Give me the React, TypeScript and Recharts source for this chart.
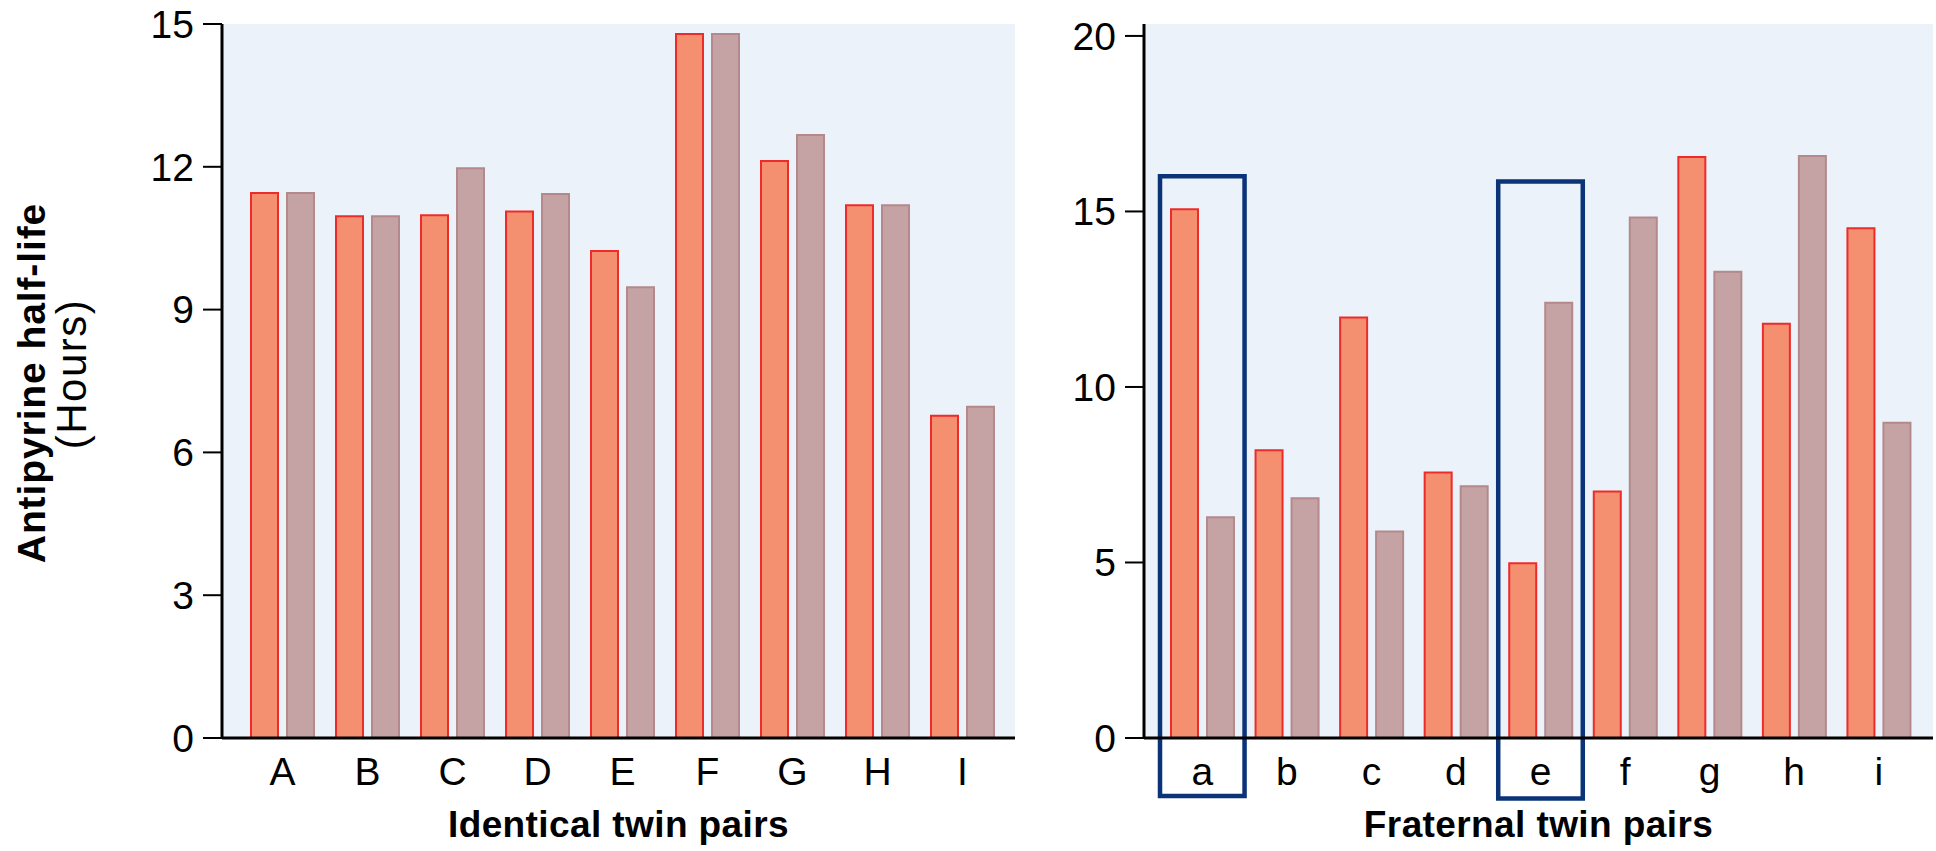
import React from 'react';
import { BarChart, Bar, XAxis, YAxis, CartesianGrid, ReferenceArea } from 'recharts';

const identicalPairs = ['A', 'B', 'C', 'D', 'E', 'F', 'G', 'H', 'I'];
const identicalTwin1 = [11.45, 10.96, 10.98, 11.06, 10.23, 14.79, 12.12, 11.19, 6.77];
const identicalTwin2 = [11.45, 10.96, 11.97, 11.43, 9.47, 14.79, 12.67, 11.19, 6.96];
const identicalTicks = [0, 3, 6, 9, 12, 15];

const fraternalPairs = ['a', 'b', 'c', 'd', 'e', 'f', 'g', 'h', 'i'];
const fraternalTwin1 = [15.06, 8.2, 11.98, 7.56, 4.98, 7.02, 16.55, 11.8, 14.52];
const fraternalTwin2 = [6.29, 6.83, 5.88, 7.17, 12.4, 14.83, 13.28, 16.58, 8.98];
const fraternalTicks = [0, 5, 10, 15, 20];

const highlightedPairs = ['a', 'e'];
const highlightTop = [16.0, 15.85];
const highlightBottom = [-1.65, -1.72];

const FONT = '"Liberation Sans", Arial, Helvetica, sans-serif';
const BG = '#EBF2FA';
const ORANGE = '#F4906F';
const ORANGE_STROKE = '#EE2B2B';
const GRAY = '#C5A3A4';
const GRAY_STROKE = '#B3898B';
const NAVY = '#0A3378';

const identicalData = identicalPairs.map((p, i) => ({ pair: p, twin1: identicalTwin1[i], twin2: identicalTwin2[i] }));
const fraternalData = fraternalPairs.map((p, i) => ({ pair: p, twin1: fraternalTwin1[i], twin2: fraternalTwin2[i] }));

const tickStyle = { fill: '#000', fontSize: 39, fontFamily: FONT };
const axisLineStyle = { stroke: '#000', strokeWidth: 3 };
const tickLineStyle = { stroke: '#000', strokeWidth: 2 };

const YLabel = (props: any) => {
  const vb = props.viewBox || { x: 0, y: 24, width: 222, height: 714 };
  const cy = vb.y + vb.height / 2;
  const x1 = vb.x + 45;
  const x2 = vb.x + 86;
  return (
    <g>
      <text
        x={x1}
        y={cy + 2}
        transform={`rotate(-90, ${x1}, ${cy + 2})`}
        textAnchor="middle"
        fontFamily={FONT}
        fontWeight="bold"
        fontSize={39}
        letterSpacing={0.9}
        fill="#000"
      >
        Antipyrine half-life
      </text>
      <text
        x={x2}
        y={cy - 7}
        transform={`rotate(-90, ${x2}, ${cy - 7})`}
        textAnchor="middle"
        fontFamily={FONT}
        fontSize={42}
        letterSpacing={1.5}
        fill="#000"
      >
        (Hours)
      </text>
    </g>
  );
};

export default function App() {
  return (
    <div style={{ position: 'absolute', left: 0, top: 0, width: 1936, height: 851, background: '#fff' }}>
      <div style={{ position: 'absolute', left: 0, top: 0 }}>
        <BarChart
          width={1030}
          height={851}
          data={identicalData}
          margin={{ top: 24, right: 15, bottom: 0, left: 0 }}
          barGap={9}
          barSize={27}
        >
          <CartesianGrid fill={BG} horizontal={false} vertical={false} stroke="none" />
          <XAxis
            dataKey="pair"
            height={113}
            padding={{ left: 18, right: 10 }}
            tickLine={false}
            tickSize={0}
            tickMargin={19}
            axisLine={axisLineStyle}
            tick={tickStyle}
            interval={0}
            label={{
              value: 'Identical twin pairs',
              position: 'insideBottom',
              offset: 14,
              style: { fontFamily: FONT, fontWeight: 'bold', fontSize: 37, fill: '#000', letterSpacing: 0.4 },
            }}
          />
          <YAxis
            width={222}
            domain={[0, 15]}
            ticks={identicalTicks}
            tickSize={19}
            tickMargin={9}
            tickLine={tickLineStyle}
            axisLine={axisLineStyle}
            tick={tickStyle}
            label={<YLabel />}
          />
          <Bar dataKey="twin1" fill={ORANGE} stroke={ORANGE_STROKE} strokeWidth={2} isAnimationActive={false} />
          <Bar dataKey="twin2" fill={GRAY} stroke={GRAY_STROKE} strokeWidth={2} isAnimationActive={false} />
        </BarChart>
      </div>
      <div style={{ position: 'absolute', left: 1030, top: 0 }}>
        <BarChart
          width={906}
          height={851}
          data={fraternalData}
          margin={{ top: 24, right: 3, bottom: 0, left: 0 }}
          barGap={9}
          barSize={27}
        >
          <CartesianGrid fill={BG} horizontal={false} vertical={false} stroke="none" />
          <XAxis
            dataKey="pair"
            height={113}
            padding={{ left: 16, right: 12 }}
            tickLine={false}
            tickSize={0}
            tickMargin={19}
            axisLine={axisLineStyle}
            tick={tickStyle}
            interval={0}
            label={{
              value: 'Fraternal twin pairs',
              position: 'insideBottom',
              offset: 14,
              style: { fontFamily: FONT, fontWeight: 'bold', fontSize: 37, fill: '#000', letterSpacing: 0.4 },
            }}
          />
          <YAxis
            width={114}
            domain={[0, 20.34]}
            ticks={fraternalTicks}
            tickSize={19}
            tickMargin={9}
            tickLine={tickLineStyle}
            axisLine={axisLineStyle}
            tick={tickStyle}
          />
          <Bar dataKey="twin1" fill={ORANGE} stroke={ORANGE_STROKE} strokeWidth={2} isAnimationActive={false} />
          <Bar dataKey="twin2" fill={GRAY} stroke={GRAY_STROKE} strokeWidth={2} isAnimationActive={false} />
          {highlightedPairs.map((p, i) => (
            <ReferenceArea
              key={p}
              x1={p}
              x2={p}
              y1={highlightBottom[i]}
              y2={highlightTop[i]}
              ifOverflow="visible"
              fill="none"
              fillOpacity={0}
              stroke={NAVY}
              strokeWidth={4.5}
            />
          ))}
        </BarChart>
      </div>
    </div>
  );
}
